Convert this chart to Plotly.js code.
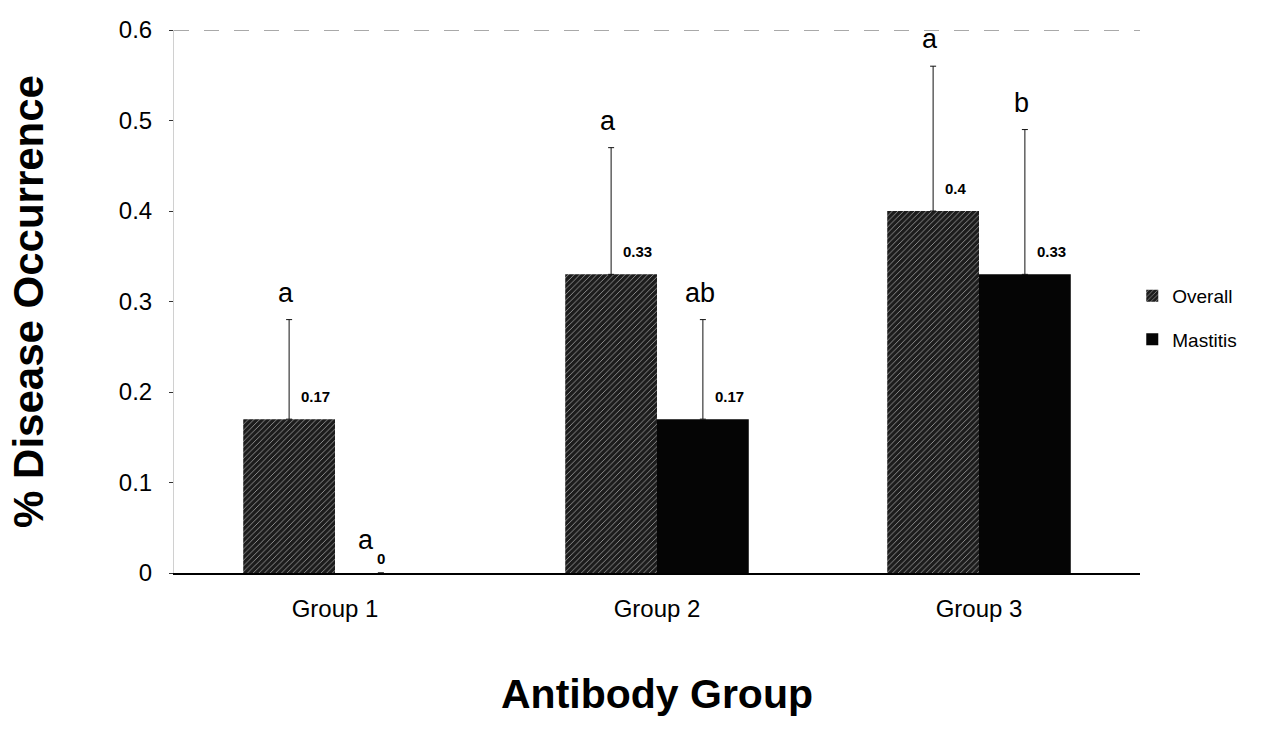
<!DOCTYPE html>
<html>
<head>
<meta charset="utf-8">
<script src="https://cdn.plot.ly/plotly-3.0.1.min.js"></script>
<style>html,body{margin:0;padding:0;background:#fff;}#chart{width:1265px;height:747px;}</style>
</head>
<body>
<div id="chart"></div>
<script>
const categories = ["Group 1", "Group 2", "Group 3"];
const overall = [0.17, 0.33, 0.4];
const mastitis = [0, 0.17, 0.33];
const overallErr = [0.11, 0.14, 0.16];
const mastitisErr = [0, 0.11, 0.16];
const overallLetters = ["a", "a", "a"];
const mastitisLetters = ["a", "ab", "b"];
const yTicks = [0, 0.1, 0.2, 0.3, 0.4, 0.5, 0.6];

const FONT = "Liberation Sans, Arial, sans-serif";
const bargap = 0.43;
const half = (1 - bargap) / 4; // offset of each bar centre from category centre

const traces = [
  {
    type: "bar", name: "Overall", x: categories, y: overall, legendgroup: "o",
    marker: { color: "#1c1c1c", line: { width: 0 },
      pattern: { shape: "/", size: 4, solidity: 0.22, fgcolor: "#9a9a9a", bgcolor: "#1c1c1c", fillmode: "replace" } },
    error_y: { type: "data", symmetric: false, array: overallErr, arrayminus: overall.map(() => 0),
      color: "#111", thickness: 1, width: 3 }
  },
  {
    type: "bar", name: "Mastitis", x: categories, y: mastitis, legendgroup: "m",
    marker: { color: "#050505", line: { width: 0 } },
    error_y: { type: "data", symmetric: false, array: mastitisErr, arrayminus: mastitis.map(() => 0),
      color: "#111", thickness: 1, width: 3 }
  }
];

const annotations = [];
function addLabels(vals, errs, letters, off) {
  vals.forEach((v, i) => {
    const xc = i + off;
    // significance letter above error bar
    annotations.push({ x: xc, y: v + errs[i], xref: "x", yref: "y", text: letters[i], showarrow: false,
      yanchor: "bottom", yshift: v === 0 ? 16 : 10, xshift: v === 0 ? -15 : -3,
      font: { family: FONT, size: 27, color: "#000" } });
    // value label
    annotations.push({ x: xc, y: v, xref: "x", yref: "y", text: String(v), showarrow: false,
      yanchor: "bottom", xanchor: v === 0 ? "center" : "left", yshift: v === 0 ? 4 : 12, xshift: v === 0 ? 0 : 10,
      font: { family: FONT, size: 15, color: "#000", weight: "bold" } });
  });
}
addLabels(overall, overallErr, overallLetters, -half);
addLabels(mastitis, mastitisErr, mastitisLetters, half);

const layout = {
  width: 1265, height: 747,
  margin: { l: 174, r: 125, t: 30, b: 174 },
  paper_bgcolor: "#fff", plot_bgcolor: "#fff",
  barmode: "group", bargap: bargap, bargroupgap: 0,
  font: { family: FONT, color: "#000" },
  showlegend: true,
  legend: { x: 0.992, xanchor: "left", y: 0.47, yanchor: "middle", traceorder: "grouped", tracegroupgap: 16,
    font: { family: FONT, size: 19, color: "#000" }, bgcolor: "rgba(0,0,0,0)", itemwidth: 30 },
  xaxis: {
    type: "category", showgrid: false, zeroline: false, showline: true, linecolor: "#000", linewidth: 1.5,
    ticks: "", tickfont: { family: FONT, size: 24, color: "#000" }, ticklabelstandoff: 14,
    title: { text: "<b>Antibody Group</b>", font: { family: FONT, size: 41, color: "#000" }, standoff: 58 }
  },
  yaxis: {
    range: [0, 0.6], tickvals: yTicks, ticktext: yTicks.map(String), showgrid: false, zeroline: false,
    showline: true, linecolor: "#d0d0d0", linewidth: 1, ticks: "outside", ticklen: 4, tickcolor: "#333",
    tickfont: { family: FONT, size: 24, color: "#000" }, ticklabelstandoff: 12,
    title: { text: "<b>% Disease Occurrence</b>", font: { family: FONT, size: 42, color: "#000" }, standoff: 62 }
  },
  shapes: [
    { type: "line", xref: "paper", yref: "y", x0: 0, x1: 1, y0: yTicks[yTicks.length - 1], y1: yTicks[yTicks.length - 1],
      line: { color: "#555", width: 1, dash: "longdash" } }
  ],
  annotations: annotations
};

Plotly.newPlot("chart", traces, layout, { staticPlot: true, displayModeBar: false });
</script>
</body>
</html>
